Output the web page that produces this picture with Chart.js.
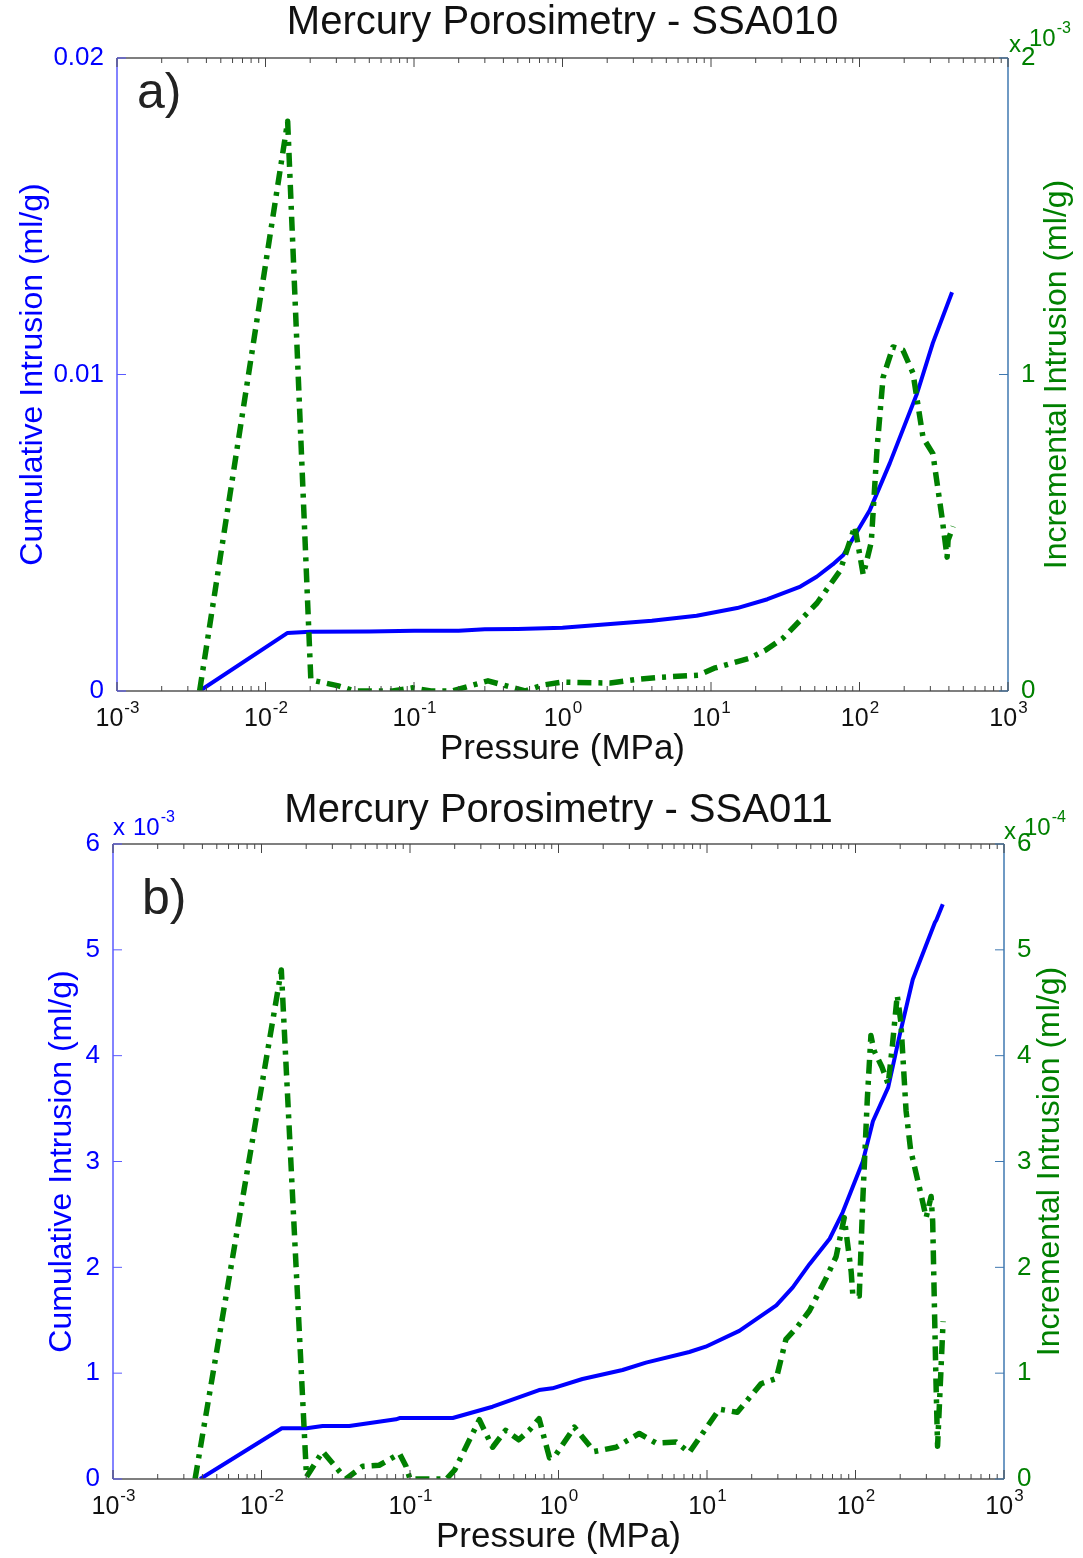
<!DOCTYPE html>
<html>
<head>
<meta charset="utf-8">
<title>Mercury Porosimetry</title>
<script src="https://cdn.jsdelivr.net/npm/chart.js@4.4.1/dist/chart.umd.min.js"></script>
<style>
  body { margin: 0; background: #fff; }
  .panel { position: absolute; left: 0; width: 1083px; }
</style>
</head>
<body>
<div class="panel" style="top:0;height:780px"><canvas id="chartA" width="1083" height="780"></canvas></div>
<div class="panel" style="top:780px;height:778px"><canvas id="chartB" width="1083" height="778"></canvas></div>
<script>
// x axis: pressure (MPa), log scale 10^-3 .. 10^3
const xDecades = [-3, -2, -1, 0, 1, 2, 3];

// SSA010 - cumulative intrusion (ml/g)
const pressureCumA = [0.0036, 0.014, 0.02, 0.05, 0.1, 0.2, 0.3, 0.5, 1, 2, 4, 8, 15, 24, 40, 51.5, 66, 77.8, 90, 117, 160, 244, 312, 420];
const cumulativeA = [0, 0.00183, 0.00187, 0.00188, 0.0019, 0.0019, 0.00195, 0.00196, 0.002, 0.00211, 0.00222, 0.00238, 0.00262, 0.0029, 0.0033, 0.00361, 0.004, 0.0043, 0.0048, 0.0057, 0.0072, 0.0094, 0.011, 0.0126];

// SSA010 - incremental intrusion (ml/g)
const pressureIncA = [0.0036, 0.0141, 0.0202, 0.031, 0.04, 0.072, 0.098, 0.13, 0.18, 0.238, 0.315, 0.42, 0.56, 0.74, 1.0, 2.1, 3.2, 4.5, 8.2, 10.5, 18.3, 23.5, 30.5, 51.8, 74, 93, 106, 120, 131, 144, 168, 196, 229, 268, 312, 359, 389, 395, 427];
const incrementalA = [0, 1.80e-3, 3.5e-5, 1.6e-5, 0, 0, 1e-5, 0, 0, 1.6e-5, 3.2e-5, 1.6e-5, 0, 1.9e-5, 2.8e-5, 2.5e-5, 3.7e-5, 4.3e-5, 5e-5, 7.2e-5, 1.04e-4, 1.3e-4, 1.67e-4, 2.78e-4, 3.8e-4, 5.2e-4, 3.67e-4, 4.7e-4, 7.6e-4, 9.9e-4, 1.087e-3, 1.077e-3, 1.005e-3, 8.0e-4, 7.5e-4, 5.5e-4, 4.23e-4, 4.77e-4, 5.2e-4];

// SSA011 - cumulative intrusion (ml/g)
const pressureCumB = [0.00386, 0.0137, 0.0201, 0.0258, 0.039, 0.0805, 0.085, 0.194, 0.36, 0.74, 0.91, 1.45, 2.7, 3.88, 7.6, 9.8, 16.5, 29.3, 37.8, 49, 67, 82, 112, 131, 166, 198, 243, 343, 350, 387];
const cumulativeB = [0, 0.48e-3, 0.48e-3, 0.5e-3, 0.5e-3, 0.564e-3, 0.576e-3, 0.576e-3, 0.683e-3, 0.84e-3, 0.857e-3, 0.945e-3, 1.03e-3, 1.1e-3, 1.2e-3, 1.25e-3, 1.4e-3, 1.64e-3, 1.81e-3, 2.03e-3, 2.27e-3, 2.52e-3, 3.0e-3, 3.38e-3, 3.7e-3, 4.19e-3, 4.72e-3, 5.26e-3, 5.28e-3, 5.43e-3];

// SSA011 - incremental intrusion (ml/g)
const pressureIncB = [0.00357, 0.0136, 0.0201, 0.0258, 0.037, 0.048, 0.062, 0.085, 0.094, 0.1, 0.176, 0.2, 0.293, 0.36, 0.44, 0.54, 0.635, 0.74, 0.87, 0.96, 1.28, 1.74, 2.44, 3.5, 4.54, 6.2, 7.6, 12.1, 16, 23.1, 29.3, 34, 40.7, 49, 63, 74, 84, 93.5, 96, 106, 112, 120, 127, 133, 151, 166, 177, 191, 202, 219, 235, 275, 299, 323, 331, 340, 348, 357, 389];
const incrementalB = [0, 4.81e-4, 0.02e-4, 0.26e-4, 0, 0.12e-4, 0.13e-4, 0.24e-4, 0.12e-4, 0, 0, 0.085e-4, 0.56e-4, 0.3e-4, 0.46e-4, 0.37e-4, 0.46e-4, 0.57e-4, 0.2e-4, 0.23e-4, 0.49e-4, 0.26e-4, 0.3e-4, 0.43e-4, 0.34e-4, 0.35e-4, 0.25e-4, 0.66e-4, 0.63e-4, 0.9e-4, 0.95e-4, 1.32e-4, 1.44e-4, 1.59e-4, 1.89e-4, 2.1e-4, 2.47e-4, 1.96e-4, 1.73e-4, 1.73e-4, 2.64e-4, 3.58e-4, 4.19e-4, 4.05e-4, 3.89e-4, 3.73e-4, 4.09e-4, 4.57e-4, 4.32e-4, 3.48e-4, 3.11e-4, 2.7e-4, 2.47e-4, 2.67e-4, 2.43e-4, 1.63e-4, 0.95e-4, 0.31e-4, 1.49e-4];

const FONT = 'Arial, "Liberation Sans", Helvetica, sans-serif';
const BLUE = '#0000ff';
const GREEN = '#008000';

// tick positions of the log axis: 1..9 x 10^k
const xTickValues = [];
xDecades.forEach((k, i) => {
    if (i === xDecades.length - 1) { xTickValues.push(Math.pow(10, k)); return; }
    for (let m = 1; m <= 9; m++) xTickValues.push(m * Math.pow(10, k));
});

function toPoints(xs, ys) {
    return xs.map((x, i) => ({ x: x, y: ys[i] }));
}

// draws "10" with a raised exponent
function drawPower(ctx, exp, x, y, size, align) {
    const small = Math.round(size * 0.68);
    ctx.font = size + 'px ' + FONT;
    const wBase = ctx.measureText('10').width;
    ctx.font = small + 'px ' + FONT;
    const wExp = ctx.measureText(exp).width;
    const x0 = align === 'center' ? x - (wBase + wExp) / 2 : x;
    ctx.textAlign = 'left';
    ctx.textBaseline = 'middle';
    ctx.font = size + 'px ' + FONT;
    ctx.fillText('10', x0, y);
    ctx.font = small + 'px ' + FONT;
    ctx.fillText(exp, x0 + wBase + 1, y - size * 0.42);
}

const decor = {
    id: 'decor',
    afterDraw(chart, args, o) {
        const ctx = chart.ctx;
        const { left, right, top, bottom } = chart.chartArea;
        const xs = chart.scales.x, yl = chart.scales.yL, yr = chart.scales.yR;
        const line = (x1, y1, x2, y2) => { ctx.beginPath(); ctx.moveTo(x1, y1); ctx.lineTo(x2, y2); ctx.stroke(); };
        ctx.save();

        // axes box
        ctx.lineWidth = 1.5;
        ctx.strokeStyle = '#555';
        line(left, top, right, top);
        line(left, bottom, right, bottom);
        ctx.strokeStyle = '#5a5aff';
        line(left, top, left, bottom);
        ctx.strokeStyle = '#3f78b0';
        line(right, top, right, bottom);

        // inward tick marks
        ctx.lineWidth = 1;
        ctx.strokeStyle = '#444';
        xs.ticks.forEach(t => {
            const px = xs.getPixelForValue(t.value);
            const len = t.major ? 9 : 5;
            line(px, bottom, px, bottom - len);
            line(px, top, px, top + len);
        });
        ctx.strokeStyle = '#5a5aff';
        yl.ticks.forEach(t => { const py = yl.getPixelForValue(t.value); line(left, py, left + 9, py); });
        ctx.strokeStyle = '#3f78b0';
        yr.ticks.forEach(t => { const py = yr.getPixelForValue(t.value); line(right - 9, py, right, py); });

        // x tick labels
        ctx.fillStyle = '#111';
        xs.ticks.filter(t => t.major).forEach(t => {
            const px = xs.getPixelForValue(t.value);
            drawPower(ctx, String(Math.round(Math.log10(t.value))), px, bottom + o.xLabelOffset, 25, 'center');
        });

        // titles
        ctx.fillStyle = '#111';
        ctx.textAlign = 'center';
        ctx.textBaseline = 'middle';
        ctx.font = '40px ' + FONT;
        ctx.fillText(o.title, (left + right) / 2, o.titleY);
        ctx.font = '35px ' + FONT;
        ctx.fillText('Pressure (MPa)', (left + right) / 2, bottom + o.xTitleOffset);

        ctx.font = '32px ' + FONT;
        ctx.save();
        ctx.translate(o.leftTitleX, (top + bottom) / 2);
        ctx.rotate(-Math.PI / 2);
        ctx.fillStyle = BLUE;
        ctx.fillText('Cumulative Intrusion (ml/g)', 0, 0);
        ctx.restore();
        ctx.save();
        ctx.translate(o.rightTitleX, (top + bottom) / 2);
        ctx.rotate(-Math.PI / 2);
        ctx.fillStyle = GREEN;
        ctx.fillText('Incremental Intrusion (ml/g)', 0, 0);
        ctx.restore();

        // panel letter
        ctx.fillStyle = '#222';
        ctx.textAlign = 'left';
        ctx.textBaseline = 'alphabetic';
        ctx.font = '50px ' + FONT;
        ctx.fillText(o.panel, o.panelX, o.panelY);

        // axis multipliers
        [o.leftExp, o.rightExp].forEach(e => {
            if (!e) return;
            ctx.fillStyle = e.color;
            ctx.textAlign = 'left';
            ctx.textBaseline = 'middle';
            ctx.font = '24px ' + FONT;
            ctx.fillText('x', e.x, e.y + e.xDrop);
            drawPower(ctx, e.exp, e.x + 20, e.y, 24, 'left');
        });
        ctx.restore();
    }
};

function makeChart(id, cfg) {
    return new Chart(document.getElementById(id), {
        type: 'line',
        data: {
            datasets: [
                {
                    label: 'Incremental Intrusion',
                    data: cfg.incremental,
                    yAxisID: 'yR',
                    borderColor: GREEN,
                    borderWidth: 5.5,
                    borderDash: [14, 7, 4, 7],
                    borderJoinStyle: 'round',
                    pointRadius: 0,
                    tension: 0,
                    order: 0
                },
                {
                    label: 'Cumulative Intrusion',
                    data: cfg.cumulative,
                    yAxisID: 'yL',
                    borderColor: BLUE,
                    borderWidth: 4,
                    borderJoinStyle: 'round',
                    pointRadius: 0,
                    tension: 0,
                    order: 1
                }
            ]
        },
        options: {
            responsive: false,
            animation: false,
            devicePixelRatio: 1,
            layout: { padding: { top: cfg.area.top, left: 0, right: 0, bottom: 0 } },
            plugins: {
                legend: { display: false },
                tooltip: { enabled: false },
                decor: cfg.decor
            },
            scales: {
                x: {
                    type: 'logarithmic',
                    min: 1e-3,
                    max: 1e3,
                    ticks: { display: false },
                    grid: { display: false },
                    border: { display: false },
                    afterBuildTicks: s => {
                        s.ticks = xTickValues.map(v => ({ value: v, major: Math.abs(Math.log10(v) - Math.round(Math.log10(v))) < 1e-9 }));
                    },
                    afterFit: s => { s.height = cfg.height - cfg.area.bottom; }
                },
                yL: {
                    type: 'linear',
                    position: 'left',
                    min: 0,
                    max: cfg.leftMax,
                    ticks: {
                        stepSize: cfg.leftStep,
                        color: BLUE,
                        padding: 5,
                        font: { size: 26, family: FONT },
                        callback: cfg.leftFmt
                    },
                    grid: { display: false },
                    border: { display: false },
                    afterFit: s => { s.width = cfg.area.left; }
                },
                yR: {
                    type: 'linear',
                    position: 'right',
                    min: 0,
                    max: cfg.rightMax,
                    ticks: {
                        stepSize: cfg.rightStep,
                        color: GREEN,
                        padding: 5,
                        font: { size: 26, family: FONT },
                        callback: cfg.rightFmt
                    },
                    grid: { display: false },
                    border: { display: false },
                    afterFit: s => { s.width = 1083 - cfg.area.right; }
                }
            }
        },
        plugins: [decor]
    });
}

makeChart('chartA', {
    height: 780,
    area: { left: 117, right: 1008, top: 58, bottom: 691 },
    cumulative: toPoints(pressureCumA, cumulativeA),
    incremental: toPoints(pressureIncA, incrementalA),
    leftMax: 0.02, leftStep: 0.01,
    leftFmt: v => v === 0 ? '0' : String(+v.toFixed(3)),
    rightMax: 0.002, rightStep: 0.001,
    rightFmt: v => String(Math.round(v * 1000)),
    decor: {
        title: 'Mercury Porosimetry - SSA010',
        titleY: 23,
        xLabelOffset: 28,
        xTitleOffset: 58,
        leftTitleX: 33,
        rightTitleX: 1057,
        panel: 'a)', panelX: 137, panelY: 108,
        rightExp: { x: 1009, y: 39, xDrop: 6, exp: '-3', color: GREEN }
    }
});

makeChart('chartB', {
    height: 778,
    area: { left: 113, right: 1004, top: 64, bottom: 699 },
    cumulative: toPoints(pressureCumB, cumulativeB),
    incremental: toPoints(pressureIncB, incrementalB),
    leftMax: 0.006, leftStep: 0.001,
    leftFmt: v => String(Math.round(v * 1000)),
    rightMax: 0.0006, rightStep: 0.0001,
    rightFmt: v => String(Math.round(v * 10000)),
    decor: {
        title: 'Mercury Porosimetry - SSA011',
        titleY: 31,
        xLabelOffset: 28,
        xTitleOffset: 58,
        leftTitleX: 62,
        rightTitleX: 1050,
        panel: 'b)', panelX: 142, panelY: 134,
        leftExp: { x: 113, y: 48, xDrop: 0, exp: '-3', color: BLUE },
        rightExp: { x: 1004, y: 48, xDrop: 4, exp: '-4', color: GREEN }
    }
});
</script>
</body>
</html>
